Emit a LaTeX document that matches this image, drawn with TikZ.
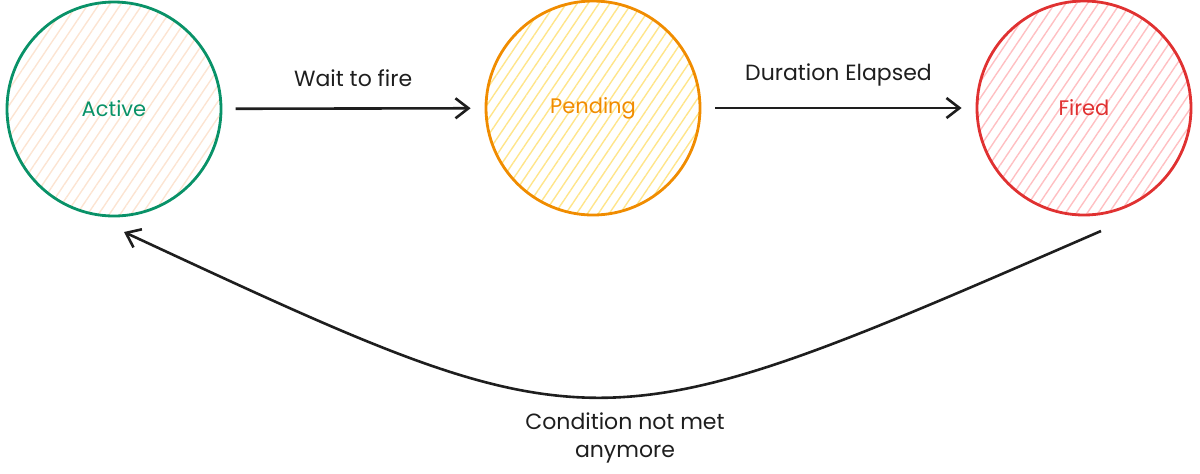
\documentclass[tikz,border=0pt]{standalone}
\usepackage{fontspec}
\setmainfont{Poppins}
\usetikzlibrary{arrows.meta,patterns.meta}

\definecolor{inkblack}{HTML}{1E1E1E}
\definecolor{activeline}{HTML}{099268}
\definecolor{activefill}{HTML}{FCE4D2}
\definecolor{pendingline}{HTML}{F08C00}
\definecolor{pendingfill}{HTML}{FFE58A}
\definecolor{firedline}{HTML}{E03131}
\definecolor{firedfill}{HTML}{FFBFC2}

\begin{document}
\begin{tikzpicture}[x=0.5pt,y=-0.5pt,>={Straight Barb[length=6.5pt,width=10pt,line width=1.3pt]},
    state/.style={circle,draw,line width=1.4pt,minimum size=107pt,inner sep=0pt,
      font=\fontsize{10.5}{12}\selectfont},
    hatch/.style={pattern={Lines[angle=56,distance=4.5pt,line width=0.7pt]},pattern color=#1},
    pre/.style={<-,line width=1.3pt,draw=inkblack,shorten <=7pt,shorten >=7pt},
    post/.style={->,line width=1.3pt,draw=inkblack},
    lbl/.style={font=\fontsize{11}{14}\selectfont,text=inkblack,align=center}]
    \useasboundingbox (0,0) rectangle (1200,473);
    \node[state,draw=activeline,text=activeline,hatch=activefill] (active) at (114,109) {Active} ;
    \node[state,draw=pendingline,text=pendingline,hatch=pendingfill] (pending) at (593,108) {Pending}
    edge[pre] node[lbl,above=7pt] (waitlbl) {Wait to fire} (active) ;
    \node[state,draw=firedline,text=firedline,hatch=firedfill] (fired) at (1084,108) {Fired}
    edge[pre] node[lbl,above=7pt] (elapsedlbl) {Duration Elapsed} (pending) ;
    % return path back to active
    \coordinate (loopstart) at (1101,231) ;
    \coordinate (loopend) at (124,232) ;
    \draw[post] (loopstart) .. controls (590,453) and (600,453) .. (loopend) ;
    \node[lbl] (condlbl) at (625,438) {Condition not met\\anymore} ;
  \end{tikzpicture}
\end{document}
